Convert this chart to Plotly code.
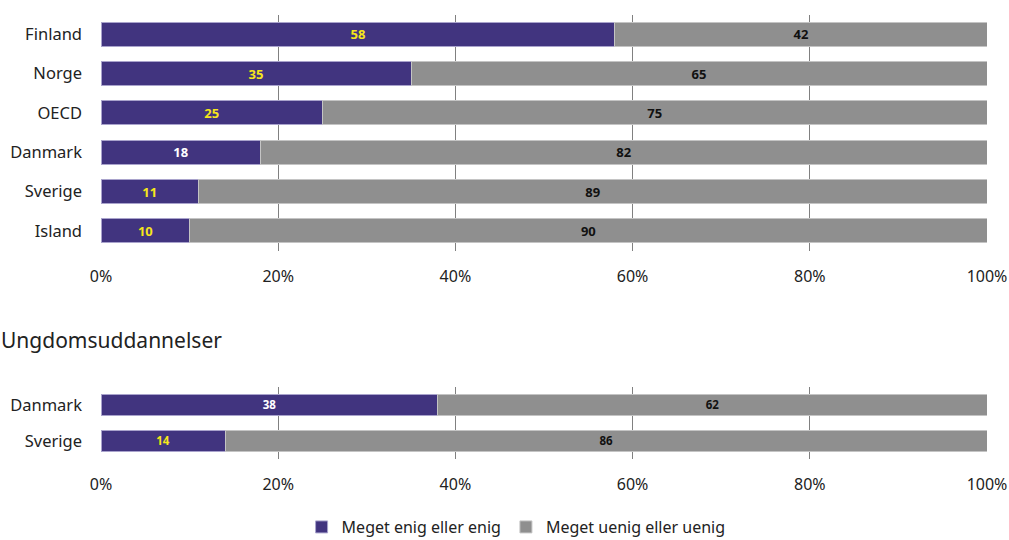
import plotly.graph_objects as go

# Grundskole / samlet
countries_top = ["Finland", "Norge", "OECD", "Danmark", "Sverige", "Island"]
enig_top = [58, 35, 25, 18, 11, 10]
uenig_top = [42, 65, 75, 82, 89, 90]
enig_top_label_colors = ["#f5e61a", "#f5e61a", "#f5e61a", "#ffffff", "#f5e61a", "#f5e61a"]

# Ungdomsuddannelser
countries_bottom = ["Danmark", "Sverige"]
enig_bottom = [38, 14]
uenig_bottom = [62, 86]
enig_bottom_label_colors = ["#ffffff", "#f5e61a"]

section_title = "Ungdomsuddannelser"
series_names = ["Meget enig eller enig", "Meget uenig eller uenig"]
x_ticks = [0, 20, 40, 60, 80, 100]
x_tick_labels = ["0%", "20%", "40%", "60%", "80%", "100%"]

PURPLE = "#41347f"
GREY = "#8f8f8f"
FONT = "Noto Sans"
TEXT = "#222222"

fig = go.Figure()


def add_pair(cats, enig, uenig, enig_colors, xa, ya, show_legend):
    fig.add_trace(go.Bar(
        y=cats, x=enig, orientation="h", name=series_names[0],
        marker=dict(color=PURPLE, line=dict(color="#a9a3cc", width=1)),
        text=[str(v) for v in enig], textposition="inside", insidetextanchor="middle",
        textangle=0,
        textfont=dict(color=enig_colors, size=13, family=FONT, weight="bold"),
        xaxis=xa, yaxis=ya, showlegend=show_legend, legendgroup="enig",
        hoverinfo="skip",
    ))
    fig.add_trace(go.Bar(
        y=cats, x=uenig, orientation="h", name=series_names[1],
        marker=dict(color=GREY, line=dict(color="#c4c4c4", width=1)),
        text=[str(v) for v in uenig], textposition="inside", insidetextanchor="middle",
        textangle=0,
        textfont=dict(color="#111111", size=13, family=FONT, weight="bold"),
        xaxis=xa, yaxis=ya, showlegend=show_legend, legendgroup="uenig",
        hoverinfo="skip",
    ))


add_pair(countries_top, enig_top, uenig_top, enig_top_label_colors, "x", "y", True)
add_pair(countries_bottom, enig_bottom, uenig_bottom, enig_bottom_label_colors, "x2", "y2", False)

H = 540.0
xaxis_common = dict(
    range=[0, 100], tickvals=x_ticks, ticktext=x_tick_labels,
    showgrid=True, gridcolor="#808080", gridwidth=1.3,
    zeroline=False, showline=False, ticks="",
    tickfont=dict(size=16, family=FONT, color=TEXT),
    ticklabelstandoff=14, fixedrange=True,
)
yaxis_common = dict(
    type="category", showgrid=False, zeroline=False, showline=False, ticks="",
    tickfont=dict(size=16.5, family=FONT, color=TEXT),
    ticklabelstandoff=18, fixedrange=True,
)

fig.update_layout(
    width=1009, height=540,
    margin=dict(l=101, r=22, t=0, b=0, autoexpand=False),
    paper_bgcolor="white", plot_bgcolor="white",
    barmode="stack", bargap=0.39,
    font=dict(family=FONT, color=TEXT),
    xaxis=dict(**xaxis_common, anchor="y"),
    yaxis=dict(**yaxis_common, anchor="x",
               domain=[(H - 250.6) / H, (H - 14.6) / H],
               categoryorder="array", categoryarray=countries_top,
               range=[len(countries_top) - 0.5, -0.5]),
    xaxis2=dict(**xaxis_common, anchor="y2"),
    yaxis2=dict(**yaxis_common, anchor="x2",
                domain=[(H - 459) / H, (H - 387) / H],
                categoryorder="array", categoryarray=countries_bottom,
                range=[len(countries_bottom) - 0.5, -0.5]),
    legend=dict(
        orientation="h", x=0.4685, xanchor="center", y=(H - 527) / H, yanchor="middle",
        font=dict(size=16, family=FONT, color=TEXT),
        traceorder="normal", itemclick=False, itemdoubleclick=False,
    ),
    annotations=[dict(
        text=section_title, xref="paper", yref="paper",
        x=(-1 - 101) / 886, xanchor="left", y=(H - 340) / H, yanchor="middle",
        showarrow=False, font=dict(size=21, family=FONT, color=TEXT),
    )],
)

fig.write_html("out.html")
